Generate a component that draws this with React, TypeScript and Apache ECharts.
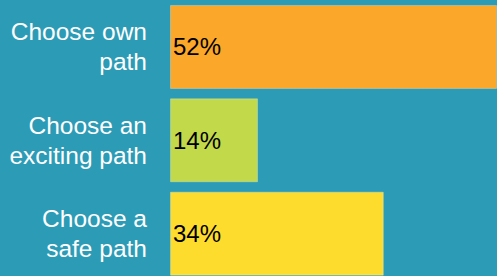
import React, { useEffect, useRef } from "react";
import * as echarts from "echarts";

const categories = ["Choose own\npath", "Choose an\nexciting path", "Choose a\nsafe path"];
const values = [52, 14, 34];
const colors = ["#FBA72A", "#C2D94A", "#FEDC2E"];

export default function App() {
  const ref = useRef<HTMLDivElement>(null);
  useEffect(() => {
    document.body.style.margin = "0";
    const chart = echarts.init(ref.current!, undefined, { renderer: "svg" });
    chart.setOption({
      animation: false,
      backgroundColor: "#2C9BB6",
      grid: { left: 170, right: 0, top: 0.3, height: 280, outerBoundsMode: "none", containLabel: false },
      xAxis: { type: "value", min: 0, max: 52, show: false },
      yAxis: {
        type: "category",
        data: categories,
        inverse: true,
        axisLine: { show: false },
        axisTick: { show: false },
        axisLabel: {
          color: "#FFFFFF",
          fontSize: 24.5,
          lineHeight: 30,
          fontFamily: "Liberation Sans, Arial, sans-serif",
          align: "right",
          margin: 23,
        },
      },
      series: [
        {
          type: "bar",
          barCategoryGap: "10%",
          data: values.map((v, i) => ({
            value: v,
            itemStyle: { color: colors[i], borderColor: "rgba(255,255,255,0.25)", borderWidth: 1 },
          })),
          label: {
            show: true,
            position: "insideLeft",
            distance: 3,
            formatter: "{c}%",
            color: "#000000",
            fontSize: 24,
            fontFamily: "Liberation Sans, Arial, sans-serif",
          },
        },
      ],
    });
    return () => chart.dispose();
  }, []);
  return <div ref={ref} style={{ width: 497, height: 276 }} />;
}
